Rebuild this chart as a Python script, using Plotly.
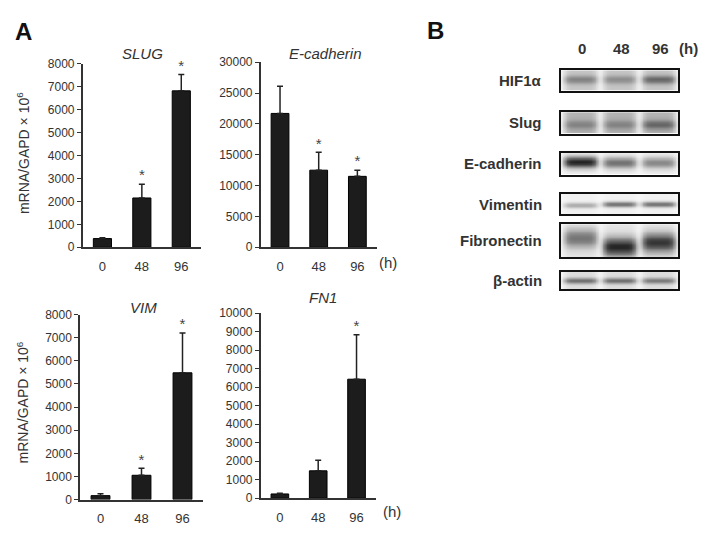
import numpy as np
import plotly.graph_objects as go

# ---- data ----
times = ["0", "48", "96"]

genes = ["SLUG", "E-cadherin", "VIM", "FN1"]
slug_mean = [380, 2150, 6820]
slug_err = [40, 600, 710]
ecad_mean = [21700, 12500, 11500]
ecad_err = [4400, 2900, 1000]
vim_mean = [170, 1050, 5480]
vim_err = [80, 300, 1720]
fn1_mean = [230, 1480, 6430]
fn1_err = [40, 570, 2400]
slug_sig = [False, True, True]
ecad_sig = [False, True, True]
vim_sig = [False, True, True]
fn1_sig = [False, False, True]

blot_names = ["HIF1α", "Slug", "E-cadherin", "Vimentin", "Fibronectin", "β-actin"]
# band darkness per lane (0 = white, 1 = black)
band_level = [
    [0.30, 0.25, 0.42],
    [0.22, 0.22, 0.35],
    [0.90, 0.55, 0.45],
    [0.30, 0.55, 0.55],
    [0.50, 0.85, 0.78],
    [0.50, 0.50, 0.45],
]
# faint background inside each lane
lane_haze = [0.22, 0.30, 0.04, 0.03, 0.08, 0.12]

# ---- layout helpers ----
W, H = 708, 539
def fx(p):
    return p / W
def fy(p):
    return 1 - p / H

FONT = "Liberation Sans, Arial, sans-serif"
TXT = "#333333"
BAR = "#1c1c1c"

# pixel boxes of the four bar panels: x0, x1, ytop, ybottom
bar_boxes = [(82.7, 201, 58.3, 246.7), (260.7, 376.7, 56.7, 246.7),
             (80, 203, 315.7, 505.7), (260.7, 375.7, 314.3, 504.3)]
bar_ranges = [8000, 30000, 8000, 10000]
bar_dticks = [1000, 5000, 1000, 1000]
means = [slug_mean, ecad_mean, vim_mean, fn1_mean]
errs = [slug_err, ecad_err, vim_err, fn1_err]
sigs = [slug_sig, ecad_sig, vim_sig, fn1_sig]
title_pos = [(142, 48), (325, 48), (143, 308), (323, 298)]

def note(x, y, text, size, xref="paper", **kw):
    d = dict(x=x, y=y, xref=xref, yref="paper", text=text, showarrow=False,
             xanchor="center", yanchor="middle", font=dict(size=size, color=TXT))
    d.update(kw)
    return d

fig = go.Figure()
layout = dict(width=W, height=H, margin=dict(l=0, r=0, t=0, b=0),
              paper_bgcolor="white", plot_bgcolor="white", showlegend=False,
              font=dict(family=FONT, color=TXT))
annotations = []

for k in range(4):
    n = "" if k == 0 else str(k + 1)
    x0, x1, yt, yb = bar_boxes[k]
    fig.add_trace(go.Bar(
        x=times, y=means[k], width=0.46,
        marker=dict(color=BAR, line=dict(color="#000000", width=1)),
        error_y=dict(type="data", array=errs[k], arrayminus=[0, 0, 0],
                     symmetric=False, color="#222222", thickness=1.5, width=3),
        xaxis="x" + n, yaxis="y" + n))
    st_x = [t for t, s in zip(times, sigs[k]) if s]
    st_y = [m + e for m, e, s in zip(means[k], errs[k], sigs[k]) if s]
    fig.add_trace(go.Scatter(
        x=st_x, y=st_y, mode="text", text=["*"] * len(st_x),
        textposition="top center", textfont=dict(size=15, color="#444444"),
        cliponaxis=False, xaxis="x" + n, yaxis="y" + n))
    layout["xaxis" + n] = dict(
        domain=[fx(x0), fx(x1)], anchor="y" + n, type="category",
        range=[-0.5, 2.5], showline=True, linecolor="#333333", linewidth=1.5,
        ticks="outside", ticklen=6, tickcolor="rgba(0,0,0,0)",
        tickfont=dict(size=13, color=TXT), showgrid=False, zeroline=False)
    layout["yaxis" + n] = dict(
        domain=[fy(yb), fy(yt)], anchor="x" + n, range=[0, bar_ranges[k]],
        dtick=bar_dticks[k], tickformat="d", showline=True,
        linecolor="#333333", linewidth=1.5,
        ticks="outside", ticklen=4, tickcolor="#333333", tickwidth=1.2,
        tickfont=dict(size=12, color=TXT), showgrid=False, zeroline=False)
    tx, ty = title_pos[k]
    annotations.append(note(fx(tx), fy(ty), "<i>" + genes[k] + "</i>", 15))

# y-axis titles
for yc in (150, 406):
    annotations.append(note(fx(23), fy(yc), "mRNA/GAPD × 10<sup>6</sup>", 14,
                            textangle=-90))
# (h) labels
for hx, hy in ((388, 262), (392, 518)):
    annotations.append(note(fx(hx), fy(hy), "(h)", 15))
# panel letters
for lt, lx, ly in (("A", 23, 25), ("B", 435, 24)):
    annotations.append(note(fx(lx), fy(ly), "<b>" + lt + "</b>", 24,
                            font=dict(size=24, color="#111111")))

# ---- western blots ----
blot_x = (561, 678)
blot_rows = [(65, 86), (108, 130), (150, 172), (192, 213), (223, 257), (272, 290)]
band_center = [[0.55] * 3, [0.42] * 3, [0.58, 0.55, 0.55], [0.45, 0.5, 0.5],
               [0.58, 0.32, 0.45], [0.5] * 3]
band_half = [0.2, 0.22, 0.26, 0.13, 0.28, 0.16]

xs = np.linspace(0, 3, 150)
ys = np.linspace(0, 1, 40)
for r, name in enumerate(blot_names):
    n = str(5 + r)
    z = np.zeros((len(ys), len(xs)))
    for j in range(3):
        px_ = np.exp(-((xs - (j + 0.5)) / 0.44) ** 6)
        py_ = np.exp(-((ys - band_center[r][j]) / band_half[r]) ** 2)
        z += lane_haze[r] * px_[None, :]
        z += band_level[r][j] * np.outer(py_, px_)
    fig.add_trace(go.Heatmap(
        x=xs, y=ys, z=np.clip(z, 0, 1), zmin=0, zmax=1, zsmooth="best",
        colorscale=[[0, "#f8f8f8"], [1, "#151515"]], showscale=False,
        hoverinfo="skip", xaxis="x" + n, yaxis="y" + n))
    yt, yb = blot_rows[r]
    frame = dict(showline=True, mirror=True, linecolor="#111111", linewidth=1.6,
                 showticklabels=False, ticks="", showgrid=False, zeroline=False)
    layout["xaxis" + n] = dict(frame, domain=[fx(blot_x[0]), fx(blot_x[1])],
                               anchor="y" + n, range=[0, 3])
    layout["yaxis" + n] = dict(frame, domain=[fy(yb), fy(yt)],
                               anchor="x" + n, range=[0, 1])
    annotations.append(note(fx(544), fy((yt + yb) / 2), "<b>" + name + "</b>", 15,
                            xanchor="right"))

for j, t in enumerate(times):
    annotations.append(note(j + 0.55, fy(43), "<b>" + t + "</b>", 15, xref="x5"))
annotations.append(note(fx(677), fy(43), "<b>(h)</b>", 15, xanchor="left"))

layout["annotations"] = annotations
fig.update_layout(**layout)
fig.write_html("out.html", config={"displayModeBar": False},
               post_script="document.body.style.margin='0';")
